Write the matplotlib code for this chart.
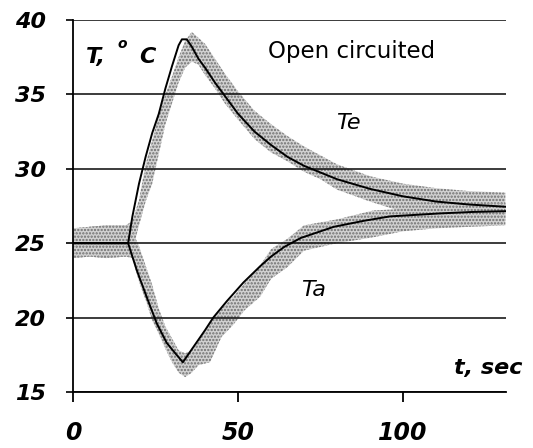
import matplotlib.pyplot as plt
import numpy as np

plt.rcParams['hatch.linewidth'] = 1.1

# smooth (model) curves
te_t = [0, 16.7, 18, 20, 22, 24, 26, 28, 30, 32, 33, 34.5, 36, 38, 40, 43, 46, 50,
        55, 60, 65, 70, 80, 90, 100, 110, 120, 131]
te = [25.0, 25.0, 26.8, 29.0, 30.8, 32.4, 33.7, 35.4, 36.9, 38.3, 38.7, 38.7, 38.2,
      37.4, 36.8, 35.8, 34.9, 33.7, 32.5, 31.6, 30.8, 30.2, 29.3, 28.65, 28.15, 27.8,
      27.6, 27.45]

ta_t = [0, 16.7, 19.3, 22.3, 25.4, 28.4, 31, 33.3, 35, 37.5, 40, 42.5, 46.6, 51.6,
        56.7, 60, 64, 69, 79, 88, 96, 111, 121, 131]
ta = [25.0, 25.0, 23.2, 21.4, 19.6, 18.3, 17.6, 17.0, 17.55, 18.35, 19.15, 20.0, 21.1,
      22.35, 23.45, 24.1, 24.75, 25.35, 26.1, 26.5, 26.8, 27.0, 27.1, 27.15]

# measured data spread (lower / upper edge of the gray band)
te_bt = [0, 5, 10, 16, 18, 20, 22, 24, 26, 28, 30, 32, 34, 36, 38, 40, 43, 46, 50,
         55, 60, 65, 70, 75, 80, 90, 100, 110, 120, 131]
te_lo = [24.0, 24.1, 24.0, 24.1, 24.5, 26.2, 27.8, 29.0, 31.0, 33.0, 34.4, 35.8, 36.8,
         37.2, 37.0, 36.3, 35.4, 34.4, 33.3, 32.0, 31.1, 30.5, 29.8, 29.3, 28.6, 27.8,
         27.1, 26.8, 26.6, 26.5]
te_hi = [26.0, 26.1, 26.2, 26.2, 26.5, 27.9, 30.3, 31.9, 33.7, 35.0, 36.2, 37.5, 38.6,
         39.2, 38.8, 38.4, 37.4, 36.4, 35.2, 33.9, 33.0, 32.2, 31.5, 30.9, 30.3, 29.5,
         29.0, 28.7, 28.5, 28.4]

ta_bt = [0, 5, 10, 16, 18, 20, 22.3, 24, 26, 28, 30, 32, 34, 36, 38, 41.5, 45, 48.5,
         52, 56.7, 60, 65, 70, 80, 91, 100, 110, 120, 131]
ta_lo = [24.0, 24.1, 24.0, 24.1, 24.0, 22.4, 21.0, 19.8, 18.9, 17.9, 17.0, 16.3, 16.0,
         16.3, 16.8, 17.0, 18.7, 19.5, 20.5, 21.4, 22.6, 23.4, 24.5, 25.0, 25.4, 25.8,
         26.0, 26.1, 26.2]
ta_hi = [26.0, 26.1, 26.2, 26.2, 25.8, 24.8, 23.3, 22.2, 20.6, 19.4, 18.6, 17.8, 17.6,
         17.8, 18.4, 19.6, 20.6, 21.4, 22.3, 23.5, 24.6, 25.3, 26.2, 26.6, 27.2, 27.3,
         27.5, 27.6, 27.7]

yticks = [15, 20, 25, 30, 35, 40]
xticks = [0, 50, 100]

fig = plt.figure(figsize=(5.33, 4.48), dpi=100)
ax = fig.add_axes([73 / 533, 1 - 392 / 448, (506 - 73) / 533, (392 - 20) / 448])

for bt, lo, hi in [(te_bt, te_lo, te_hi), (ta_bt, ta_lo, ta_hi)]:
    ax.fill_between(bt, lo, hi, facecolor='#d2d2d2', edgecolor='#6e6e6e',
                    hatch='.....', linewidth=0, zorder=1)

ax.plot(te_t, te, color='black', lw=1.4, zorder=4)
ax.plot(ta_t, ta, color='black', lw=1.4, zorder=4)

ax.set_xlim(0, 131.2)
ax.set_ylim(15, 40)
ax.set_xticks(xticks)
ax.set_yticks(yticks)
ax.yaxis.grid(True, color='#1a1a1a', lw=1.2, zorder=2)
ax.set_axisbelow(False)
for s in ['top', 'right']:
    ax.spines[s].set_visible(False)
for s in ['left', 'bottom']:
    ax.spines[s].set_linewidth(1.3)
    ax.spines[s].set_zorder(3)

ax.tick_params(axis='y', direction='out', length=5, width=1.2, pad=14.5,
               labelsize=16)
ax.tick_params(axis='x', direction='out', length=7, width=1.3, pad=14,
               labelsize=17)
for lab in ax.get_xticklabels() + ax.get_yticklabels():
    lab.set_fontweight('bold')
    lab.set_fontstyle('italic')

ax.text(3.8, 37.1, 'T,', fontsize=16, fontweight='bold', fontstyle='italic',
        va='baseline', zorder=5)
ax.text(13.5, 38.1, 'o', fontsize=10, fontweight='bold', fontstyle='italic',
        va='baseline', zorder=5)
ax.text(20.2, 37.1, 'C', fontsize=16, fontweight='bold', fontstyle='italic',
        va='baseline', zorder=5)
ax.text(84.4, 37.85, 'Open circuited', fontsize=16.5, ha='center', va='center',
        zorder=5)
ax.text(83.3, 33.1, 'Te', fontsize=16, fontstyle='italic', ha='center',
        va='center', zorder=5)
ax.text(73.0, 21.85, 'Ta', fontsize=16, fontstyle='italic', ha='center',
        va='center', zorder=5)
fig.text(523 / 533, 1 - 374 / 448, 't, sec', fontsize=16, fontweight='bold',
         fontstyle='italic', ha='right', va='baseline')

fig.savefig('out.png', dpi=100)
